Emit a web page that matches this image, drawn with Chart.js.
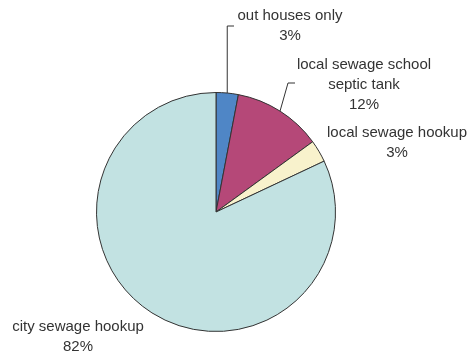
<!DOCTYPE html>
<html>
<head>
<meta charset="utf-8">
<script src="https://cdn.jsdelivr.net/npm/chart.js"></script>
<style>
  html, body { margin: 0; padding: 0; background: #fff; }
  canvas { display: block; }
</style>
</head>
<body>
<canvas id="pieChart" width="469" height="356"></canvas>
<script>
var categories = ['out houses only', 'local sewage school septic tank', 'local sewage hookup', 'city sewage hookup'];
var percents = [3, 12, 3, 82];
var sliceColors = ['#4f86c6', '#b54878', '#f8f2cc', '#c2e2e2'];

// label text lines, where the text sits and how the leader line bends
var labelLayout = [
    { lines: ['out houses only'], x: 290, y: 16, bend: 'up', elbowY: 26, endX: 234 },
    { lines: ['local sewage school', 'septic tank'], x: 364, y: 65, bend: 'diag', elbowX: 288, elbowY: 83, endX: 295 },
    { lines: ['local sewage hookup'], x: 397, y: 133 },
    { lines: ['city sewage hookup'], x: 78, y: 327 }
];

var pieLabels = {
    id: 'pieLabels',
    afterDraw: function (chart) {
        var ctx = chart.ctx;
        var arcs = chart.getDatasetMeta(0).data;
        ctx.save();
        ctx.font = '15px "Liberation Sans", Arial, sans-serif';
        ctx.fillStyle = '#333';
        ctx.textAlign = 'center';
        ctx.textBaseline = 'middle';
        arcs.forEach(function (arc, i) {
            var lay = labelLayout[i];
            var lines = lay.lines.concat([percents[i] + '%']);
            lines.forEach(function (t, k) {
                ctx.fillText(t, lay.x, lay.y + k * 20);
            });
            if (!lay.bend) return;
            var mid = (arc.startAngle + arc.endAngle) / 2;
            var sx = arc.x + arc.outerRadius * Math.cos(mid);
            var sy = arc.y + arc.outerRadius * Math.sin(mid);
            ctx.beginPath();
            ctx.strokeStyle = '#333';
            ctx.lineWidth = 1;
            ctx.moveTo(sx, sy);
            if (lay.bend === 'up') {
                ctx.lineTo(sx, lay.elbowY);
            } else {
                ctx.lineTo(lay.elbowX, lay.elbowY);
            }
            ctx.lineTo(lay.endX, lay.elbowY);
            ctx.stroke();
        });
        ctx.restore();
    }
};

var ctxP = document.getElementById('pieChart').getContext('2d');
var myPieChart = new Chart(ctxP, {
    type: 'pie',
    data: {
        labels: categories,
        datasets: [{
            data: percents,
            backgroundColor: sliceColors,
            borderColor: '#333',
            borderWidth: 1
        }]
    },
    options: {
        responsive: false,
        animation: false,
        events: [],
        layout: { padding: { top: 92, bottom: 24, left: 96, right: 133 } },
        plugins: {
            legend: { display: false },
            tooltip: { enabled: false }
        }
    },
    plugins: [pieLabels]
});
</script>
</body>
</html>
